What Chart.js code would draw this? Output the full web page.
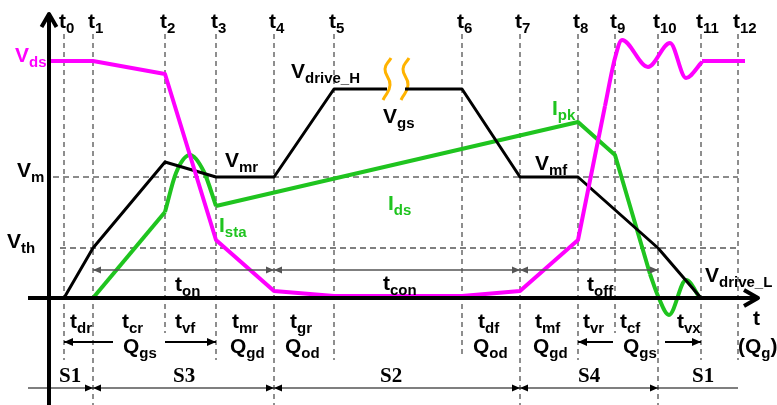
<!DOCTYPE html>
<html>
<head>
<meta charset="utf-8">
<script src="https://cdn.jsdelivr.net/npm/chart.js@4.4.1/dist/chart.umd.min.js"></script>
<style>
body{margin:0;background:#fff;overflow:hidden}
#wrap{position:relative;width:777px;height:405px}
#c{position:absolute;left:0;top:0}
.lbl{position:absolute;white-space:nowrap;font:bold 21px "Liberation Sans",Arial,sans-serif;line-height:21px}
.lbl sub{font-size:15px;vertical-align:baseline;position:relative;top:5px}
.s{font-family:"Liberation Serif","Times New Roman",serif}
</style>
</head>
<body>
<div id="wrap"><canvas id="c" width="777" height="405"></canvas><div id="labels"></div></div>
<script>
// x = distance from the vertical axis, y = height above the time axis
const tNames = ['0','1','2','3','4','5','6','7','8','9','10','11','12'];
const tValues = [15,44,116,167,225,285,413,471,529,566,609,652,689];
const tBottoms = [-62,-110,-35,-62,-110,-62,-59,-110,-62,-35,-110,-62,-62];
const guideTop = 264;
const vMiller = 121, vThresh = 50;

const vgsPoints = [[15,0],[44,50],[116,136],[167,121],[225,121],[285,209],[338,209],[347,null],[356,209],[413,209],[471,121],[529,121],[609,50],[652,0]];
const vdsPoints = [[0,237],[44,237],[116,224],[167,58],[225,7],[285,2],[413,2],[471,7],[529,58],[556,192]];
const vdsRinging = [[556,192],[566,240],[573,258],[599,231],[621,255],[637,220],[653,236]];
const vdsTail = [[653,237],[696,237]];
const idsRise = [[44,0],[116,86]];
const idsBump = [[116,86],[127,125],[141,143],[155,126],[167,92]];
const idsMain = [[167,92],[529,176],[566,143],[601,24]];
const idsRinging = [[601,24],[609,2],[620,-17],[637,18],[651,0]];
const breakMark1 = [[342,240],[336,229],[341,213],[334,198]];
const breakMark2 = [[360,240],[354,229],[359,213],[352,198]];

const M = '#ff00ff', G = '#1fc41f', K = '#000', O = '#ffb300';

const pts = a => a.map(p => ({x: p[0], y: p[1]}));
const line = (data, color, width, extra) => Object.assign({
  data: pts(data), showLine: true, borderColor: color, borderWidth: width,
  pointRadius: 0, fill: false, tension: 0, spanGaps: false, borderJoinStyle: 'round'
}, extra || {});

const datasets = [
  line(vdsPoints, M, 4, {order: 1}),
  line(vdsRinging, M, 4, {order: 1, cubicInterpolationMode: 'monotone'}),
  line(vdsTail, M, 4, {order: 1}),
  line(vgsPoints, K, 3, {order: 2}),
  line(breakMark1, O, 3, {order: 2, tension: 0.5}),
  line(breakMark2, O, 3, {order: 2, tension: 0.5}),
  line(idsRise, G, 4, {order: 3}),
  line(idsBump, G, 4, {order: 3, cubicInterpolationMode: 'monotone'}),
  line(idsMain, G, 4, {order: 3}),
  line(idsRinging, G, 4, {order: 3, cubicInterpolationMode: 'monotone'}),
  line([[4,vMiller],[689,vMiller]], '#666', 1.5, {order: 9, borderDash: [6,4]}),
  line([[11,vThresh],[689,vThresh]], '#555', 1.5, {order: 9, borderDash: [6,4]})
];
tValues.forEach((t, i) => {
  datasets.push(line([[t,guideTop],[t,tBottoms[i]]], '#444', 1.2, {order: 10, borderDash: [5,4]}));
});

// axes and dimension arrows
const arrows = [
  {from:[0,-110], to:[0,284], end:true, open:true, width:4, color:K, head:13, headW:7.5},
  {from:[-21,0], to:[709,0], end:true, open:true, width:4, color:K, head:14, headW:8},
  {from:[44,28], to:[225,28], start:true, end:true, width:1.5, color:'#555', head:8, headW:3.5},
  {from:[225,28], to:[471,28], start:true, end:true, width:1.5, color:'#555', head:8, headW:3.5},
  {from:[471,28], to:[609,28], start:true, end:true, width:1.5, color:'#555', head:8, headW:3.5},
  {from:[64,-44], to:[15,-44], end:true, width:2, color:K, head:9, headW:4},
  {from:[116,-44], to:[167,-44], end:true, width:2, color:K, head:9, headW:4},
  {from:[564,-44], to:[529,-44], end:true, width:2, color:K, head:9, headW:4},
  {from:[616,-44], to:[652,-44], end:true, width:2, color:K, head:9, headW:4},
  {from:[-21,-90], to:[44,-90], end:true, width:1.2, color:K, head:8, headW:3.5},
  {from:[44,-90], to:[225,-90], start:true, end:true, width:1.2, color:K, head:8, headW:3.5},
  {from:[225,-90], to:[471,-90], start:true, end:true, width:1.2, color:K, head:8, headW:3.5},
  {from:[471,-90], to:[609,-90], start:true, end:true, width:1.2, color:K, head:8, headW:3.5},
  {from:[609,-90], to:[689,-90], width:1.2, color:K}
];

function drawHead(ctx, fx, fy, tx, ty, a) {
  const ang = Math.atan2(ty - fy, tx - fx);
  const bx = tx - a.head * Math.cos(ang), by = ty - a.head * Math.sin(ang);
  const px = -Math.sin(ang) * a.headW, py = Math.cos(ang) * a.headW;
  ctx.beginPath();
  if (a.open) {
    ctx.moveTo(bx + px, by + py); ctx.lineTo(tx, ty); ctx.lineTo(bx - px, by - py);
    ctx.stroke();
  } else {
    ctx.moveTo(tx, ty); ctx.lineTo(bx + px, by + py); ctx.lineTo(bx - px, by - py);
    ctx.closePath(); ctx.fillStyle = a.color; ctx.fill();
  }
}

const arrowPlugin = {
  id: 'arrows',
  afterDatasetsDraw(chart) {
    const {ctx, scales: {x, y}} = chart;
    arrows.forEach(a => {
      const x1 = x.getPixelForValue(a.from[0]), y1 = y.getPixelForValue(a.from[1]);
      const x2 = x.getPixelForValue(a.to[0]), y2 = y.getPixelForValue(a.to[1]);
      ctx.save();
      ctx.strokeStyle = a.color; ctx.lineWidth = a.width;
      ctx.lineJoin = 'round'; ctx.lineCap = 'butt';
      ctx.beginPath(); ctx.moveTo(x1, y1); ctx.lineTo(x2, y2); ctx.stroke();
      if (a.end) drawHead(ctx, x1, y1, x2, y2, a);
      if (a.start) drawHead(ctx, x2, y2, x1, y1, a);
      ctx.restore();
    });
  }
};

const chart = new Chart(document.getElementById('c'), {
  type: 'scatter',
  data: {datasets},
  options: {
    responsive: false, animation: false, devicePixelRatio: 1,
    layout: {padding: 0},
    plugins: {legend: {display: false}, tooltip: {enabled: false}},
    scales: {
      x: {type: 'linear', min: -49, max: 728, display: false},
      y: {type: 'linear', min: -107, max: 298, display: false}
    }
  },
  plugins: [arrowPlugin]
});

// text labels: [html, left px, baseline px, colour, serif]
const labels = [
  ['V<sub>ds</sub>', 15, 62, M],
  ['V<sub>m</sub>', 17, 177, K],
  ['V<sub>th</sub>', 7, 248, K],
  ['V<sub>mr</sub>', 225, 167, K],
  ['V<sub>drive_H</sub>', 291, 78, K],
  ['V<sub>gs</sub>', 383, 123, K],
  ['V<sub>mf</sub>', 535, 170, K],
  ['V<sub>drive_L</sub>', 705, 282, K],
  ['I<sub>ds</sub>', 388, 210, G],
  ['I<sub>sta</sub>', 219, 232, G],
  ['I<sub>pk</sub>', 552, 115, G],
  ['t<sub>on</sub>', 175, 291, K],
  ['t<sub>con</sub>', 383, 290, K],
  ['t<sub>off</sub>', 587, 291, K],
  ['t<sub>dr</sub>', 70, 328, K],
  ['t<sub>cr</sub>', 122, 328, K],
  ['Q<sub>gs</sub>', 123, 353, K],
  ['t<sub>vf</sub>', 175, 328, K],
  ['t<sub>mr</sub>', 232, 328, K],
  ['Q<sub>gd</sub>', 230, 353, K],
  ['t<sub>gr</sub>', 290, 328, K],
  ['Q<sub>od</sub>', 285, 353, K],
  ['t<sub>df</sub>', 478, 328, K],
  ['Q<sub>od</sub>', 473, 353, K],
  ['t<sub>mf</sub>', 535, 328, K],
  ['Q<sub>gd</sub>', 533, 353, K],
  ['t<sub>vr</sub>', 583, 328, K],
  ['t<sub>cf</sub>', 620, 328, K],
  ['Q<sub>gs</sub>', 623, 353, K],
  ['t<sub>vx</sub>', 677, 328, K],
  ['t', 753, 325, K],
  ['(Q<sub>g</sub>)', 738, 353, K],
  ['S1', 59, 383, K, true],
  ['S3', 173, 383, K, true],
  ['S2', 380, 383, K, true],
  ['S4', 578, 383, K, true],
  ['S1', 692, 383, K, true]
];
tValues.forEach((t, i) => {
  labels.push(['t<sub>' + tNames[i] + '</sub>', chart.scales.x.getPixelForValue(t) - 5, 28, K]);
});

const box = document.getElementById('labels');
labels.forEach(([html, x, base, color, serif]) => {
  const el = document.createElement('div');
  el.className = 'lbl' + (serif ? ' s' : '');
  el.innerHTML = html;
  el.style.left = x + 'px';
  el.style.top = (base - (serif ? 17.6 : 17.8)) + 'px';
  el.style.color = color;
  box.appendChild(el);
});
</script>
</body>
</html>
